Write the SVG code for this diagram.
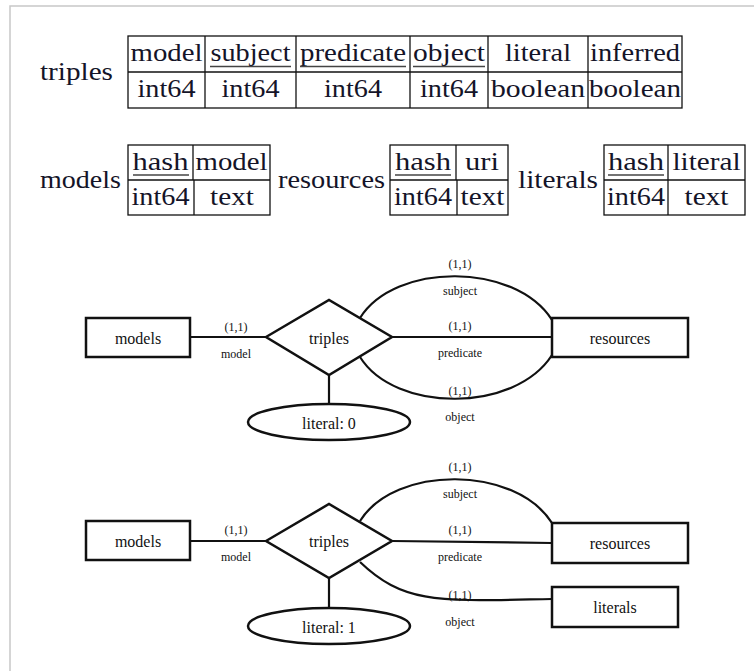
<svg xmlns="http://www.w3.org/2000/svg" width="754" height="671" viewBox="0 0 754 671" font-family="'Liberation Serif', 'DejaVu Serif', serif">
  <style>
    text { font-family: "Liberation Serif", "DejaVu Serif", serif; }
    .frame { stroke: #c8c8c8; stroke-width: 1.5; fill: none; }
    .tbl { fill: none; stroke: #111; stroke-width: 1.3; }
    .cell { font-size: 26px; fill: #141428; text-anchor: middle; }
    .lbl { font-size: 26px; fill: #141428; }
    .ul { stroke: #444; stroke-width: 1.6; }
    .ent { fill: #fff; stroke: #111; stroke-width: 2.5; }
    .conn { fill: none; stroke: #111; stroke-width: 2.2; }
    .name { font-size: 16px; fill: #111; text-anchor: middle; dominant-baseline: central; }
    .small { font-size: 12px; fill: #111; text-anchor: middle; }
  </style>

  <!-- page frame -->
  <path class="frame" d="M10,671 V6 H754"/>

  <!-- relational schema: triples -->
  <g id="schema-triples">
    <text class="lbl" x="40" y="80" textLength="73" lengthAdjust="spacingAndGlyphs">triples</text>
    <rect class="tbl" x="128" y="36" width="554" height="72"/>
    <line class="tbl" x1="128" y1="72" x2="682" y2="72"/>
    <line class="tbl" x1="205" y1="36" x2="205" y2="108"/>
    <line class="tbl" x1="296" y1="36" x2="296" y2="108"/>
    <line class="tbl" x1="410" y1="36" x2="410" y2="108"/>
    <line class="tbl" x1="488" y1="36" x2="488" y2="108"/>
    <line class="tbl" x1="588" y1="36" x2="588" y2="108"/>
    <text class="cell" x="166.5" y="61" textLength="72" lengthAdjust="spacingAndGlyphs">model</text>
    <text class="cell" x="250.5" y="61" textLength="80" lengthAdjust="spacingAndGlyphs">subject</text>
    <text class="cell" x="353" y="61" textLength="106" lengthAdjust="spacingAndGlyphs">predicate</text>
    <text class="cell" x="449" y="61" textLength="72" lengthAdjust="spacingAndGlyphs">object</text>
    <text class="cell" x="538" y="61" textLength="66" lengthAdjust="spacingAndGlyphs">literal</text>
    <text class="cell" x="635" y="61" textLength="90" lengthAdjust="spacingAndGlyphs">inferred</text>
    <line class="ul" x1="210" y1="66.5" x2="291" y2="66.5"/>
    <line class="ul" x1="300" y1="66.5" x2="406" y2="66.5"/>
    <line class="ul" x1="413" y1="66.5" x2="485" y2="66.5"/>
    <text class="cell" x="166.5" y="97" textLength="58" lengthAdjust="spacingAndGlyphs">int64</text>
    <text class="cell" x="250.5" y="97" textLength="58" lengthAdjust="spacingAndGlyphs">int64</text>
    <text class="cell" x="353" y="97" textLength="58" lengthAdjust="spacingAndGlyphs">int64</text>
    <text class="cell" x="449" y="97" textLength="58" lengthAdjust="spacingAndGlyphs">int64</text>
    <text class="cell" x="538" y="97" textLength="94" lengthAdjust="spacingAndGlyphs">boolean</text>
    <text class="cell" x="635" y="97" textLength="92" lengthAdjust="spacingAndGlyphs">boolean</text>
  </g>

  <!-- relational schema: models -->
  <g id="schema-models">
    <text class="lbl" x="40" y="188" textLength="81" lengthAdjust="spacingAndGlyphs">models</text>
    <rect class="tbl" x="128" y="145" width="142" height="70"/>
    <line class="tbl" x1="128" y1="180" x2="270" y2="180"/>
    <line class="tbl" x1="193" y1="145" x2="193" y2="180"/>
    <line class="tbl" x1="194" y1="180" x2="194" y2="215"/>
    <text class="cell" x="160.5" y="170" textLength="56" lengthAdjust="spacingAndGlyphs">hash</text>
    <line class="ul" x1="133" y1="175" x2="189" y2="175"/>
    <text class="cell" x="231.5" y="170" textLength="72" lengthAdjust="spacingAndGlyphs">model</text>
    <text class="cell" x="160.5" y="205" textLength="58" lengthAdjust="spacingAndGlyphs">int64</text>
    <text class="cell" x="232" y="205" textLength="44" lengthAdjust="spacingAndGlyphs">text</text>
  </g>

  <!-- relational schema: resources -->
  <g id="schema-resources">
    <text class="lbl" x="278" y="188" textLength="107" lengthAdjust="spacingAndGlyphs">resources</text>
    <rect class="tbl" x="390" y="145" width="118" height="70"/>
    <line class="tbl" x1="390" y1="180" x2="508" y2="180"/>
    <line class="tbl" x1="456" y1="145" x2="456" y2="180"/>
    <line class="tbl" x1="457" y1="180" x2="457" y2="215"/>
    <text class="cell" x="423" y="170" textLength="56" lengthAdjust="spacingAndGlyphs">hash</text>
    <line class="ul" x1="395" y1="175" x2="451" y2="175"/>
    <text class="cell" x="482" y="170" textLength="34" lengthAdjust="spacingAndGlyphs">uri</text>
    <text class="cell" x="423" y="205" textLength="58" lengthAdjust="spacingAndGlyphs">int64</text>
    <text class="cell" x="482.5" y="205" textLength="44" lengthAdjust="spacingAndGlyphs">text</text>
  </g>

  <!-- relational schema: literals -->
  <g id="schema-literals">
    <text class="lbl" x="518" y="188" textLength="80" lengthAdjust="spacingAndGlyphs">literals</text>
    <rect class="tbl" x="604" y="145" width="141" height="70"/>
    <line class="tbl" x1="604" y1="180" x2="745" y2="180"/>
    <line class="tbl" x1="668" y1="145" x2="668" y2="215"/>
    <text class="cell" x="636" y="170" textLength="56" lengthAdjust="spacingAndGlyphs">hash</text>
    <line class="ul" x1="608" y1="175" x2="664" y2="175"/>
    <text class="cell" x="706.5" y="170" textLength="68" lengthAdjust="spacingAndGlyphs">literal</text>
    <text class="cell" x="636" y="205" textLength="58" lengthAdjust="spacingAndGlyphs">int64</text>
    <text class="cell" x="706.5" y="205" textLength="44" lengthAdjust="spacingAndGlyphs">text</text>
  </g>

  <!-- ER diagram, literal: 0 -->
  <g id="er1-connectors">
    <line class="conn" x1="190" y1="337" x2="266" y2="337"/>
    <line class="conn" x1="392" y1="337" x2="552" y2="337"/>
    <path class="conn" d="M360,318 C395,262 515,262 552,320"/>
    <path class="conn" d="M360,357 C395,413 515,413 552,355"/>
    <line class="conn" x1="329" y1="375" x2="329" y2="405"/>
    <text class="small" x="236" y="331">(1,1)</text>
    <text class="small" x="236" y="358">model</text>
    <text class="small" x="460" y="268">(1,1)</text>
    <text class="small" x="460" y="295">subject</text>
    <text class="small" x="460" y="330">(1,1)</text>
    <text class="small" x="460" y="357">predicate</text>
    <text class="small" x="460" y="395">(1,1)</text>
    <text class="small" x="460" y="421">object</text>
  </g>
  <g id="er1-models">
    <rect class="ent" x="86" y="318" width="104" height="39"/>
    <text class="name" x="138" y="338">models</text>
  </g>
  <g id="er1-triples">
    <polygon class="ent" points="266,337 329,300 392,337 329,375"/>
    <text class="name" x="329" y="338">triples</text>
  </g>
  <g id="er1-resources">
    <rect class="ent" x="552" y="318" width="136" height="39"/>
    <text class="name" x="620" y="338">resources</text>
  </g>
  <g id="er1-literal">
    <ellipse class="ent" cx="329" cy="422" rx="81" ry="18"/>
    <text class="name" x="329" y="423">literal: 0</text>
  </g>

  <!-- ER diagram, literal: 1 -->
  <g id="er2-connectors">
    <line class="conn" x1="190" y1="541" x2="266" y2="541"/>
    <line class="conn" x1="392" y1="541" x2="552" y2="543"/>
    <path class="conn" d="M360,521 C395,465 515,465 552,523"/>
    <path class="conn" d="M360,562 C405,605 440,601 552,599"/>
    <line class="conn" x1="329" y1="578" x2="329" y2="608"/>
    <text class="small" x="236" y="534">(1,1)</text>
    <text class="small" x="236" y="561">model</text>
    <text class="small" x="460" y="471">(1,1)</text>
    <text class="small" x="460" y="498">subject</text>
    <text class="small" x="460" y="534">(1,1)</text>
    <text class="small" x="460" y="561">predicate</text>
    <text class="small" x="460" y="599">(1,1)</text>
    <text class="small" x="460" y="626">object</text>
  </g>
  <g id="er2-models">
    <rect class="ent" x="86" y="521" width="104" height="39"/>
    <text class="name" x="138" y="541">models</text>
  </g>
  <g id="er2-triples">
    <polygon class="ent" points="266,541 329,504 392,541 329,578"/>
    <text class="name" x="329" y="541">triples</text>
  </g>
  <g id="er2-resources">
    <rect class="ent" x="552" y="523" width="136" height="40"/>
    <text class="name" x="620" y="543">resources</text>
  </g>
  <g id="er2-literals">
    <rect class="ent" x="552" y="587" width="126" height="40"/>
    <text class="name" x="615" y="607">literals</text>
  </g>
  <g id="er2-literal">
    <ellipse class="ent" cx="329" cy="626" rx="81" ry="18"/>
    <text class="name" x="329" y="627">literal: 1</text>
  </g>
</svg>
